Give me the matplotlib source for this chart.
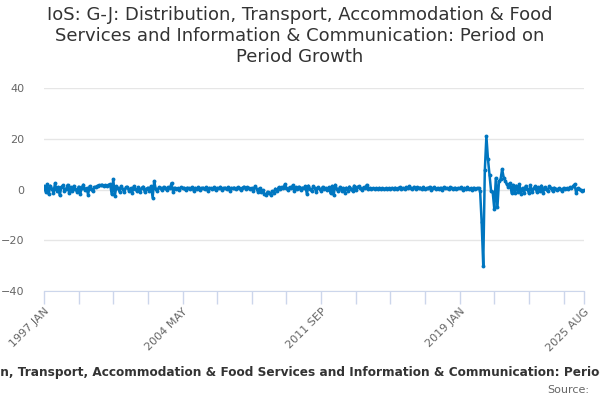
import matplotlib
matplotlib.use('Agg')
import matplotlib.pyplot as plt

# monthly period-on-period growth, 1997 JAN .. 2025 AUG
y1997 = [1.2, -0.8, 2.1, -1.9, 1.5, 0.3, -1.2, 2.4, -0.5, 1.0, -2.3, 0.8]
y1998 = [1.6, -0.4, 0.2, 1.8, -1.5, 0.9, -0.6, 1.4, 0.1, -0.9, 1.1, -1.8]
y1999 = [0.7, 1.9, -0.3, 0.5, -2.0, 1.3, 0.2, -0.7, 0.9, 1.1, 1.5, 1.7]
y2000 = [1.6, 1.8, 1.4, 1.7, 1.5, 1.9, 2.0, -1.8, 4.0, -2.5, 1.2, 0.4]
y2001 = [-0.9, 1.3, 0.1, -1.1, 0.8, 1.0, -0.6, 0.5, -1.3, 1.2, 0.3, -0.4]
y2002 = [0.9, -0.8, 0.6, 1.1, -1.0, 0.2, 0.7, -0.5, 1.3, -3.2, 3.3, 0.1]
y2003 = [-0.6, 0.8, 0.4, -0.3, 1.0, 0.5, -0.2, 0.9, 0.6, 2.5, -0.8, 0.7]
y2004 = [0.3, 0.5, -0.1, 0.8, 0.4, 0.6, -0.3, 0.7, 0.5, 0.2, 0.9, -0.4]
y2005 = [0.6, 0.3, 0.8, -0.2, 0.5, 0.7, 0.1, 0.9, -0.5, 0.6, 0.4, 0.2]
y2006 = [0.8, -0.3, 0.6, 0.4, 1.0, -0.2, 0.5, 0.7, 0.3, 0.9, -0.4, 0.6]
y2007 = [0.4, 0.7, 0.2, 0.9, 0.5, -0.1, 0.6, 1.1, 0.3, 0.8, 0.4, 0.2]
y2008 = [0.6, -0.5, 1.2, 0.3, -1.0, 0.5, -0.8, -0.3, -1.6, -2.2, -0.9, -1.4]
y2009 = [-2.0, -0.6, -1.2, 0.3, -0.4, 0.8, 0.2, 1.0, 0.5, 2.0, 0.6, -0.3]
y2010 = [0.9, 0.4, 1.6, -0.5, 0.8, 0.3, 1.1, -0.2, 0.7, 0.5, 1.3, -1.8]
y2011 = [1.5, 0.2, -0.6, 1.2, 0.4, -0.9, 0.8, 0.3, -0.4, 1.0, 0.1, 0.6]
y2012 = [-0.3, 0.9, -1.5, 1.4, -2.2, 1.8, 0.2, -0.7, 1.0, -0.5, 0.6, -1.2]
y2013 = [0.7, -0.4, 1.1, 0.3, -0.6, 1.5, -0.2, 0.8, 1.2, 0.4, -0.3, 0.9]
y2014 = [0.5, 1.8, 0.3, 0.6, 0.2, 0.5, 0.1, 0.4, 0.3, 0.6, 0.2, 0.5]
y2015 = [0.3, 0.4, 0.1, 0.5, 0.2, 0.6, 0.3, 0.7, 0.1, 0.4, 0.8, 0.3]
y2016 = [0.6, 0.2, 0.9, 0.4, 1.2, 0.5, 0.3, 1.0, 0.2, 0.8, 0.4, 0.7]
y2017 = [0.3, 0.9, 0.1, 0.6, 0.4, 1.0, -0.2, 0.5, 0.8, 0.3, 0.6, 0.2]
y2018 = [0.7, -0.3, 0.9, 0.4, 0.6, 0.2, 0.8, 0.5, 0.1, 0.7, 0.3, 0.6]
y2019 = [0.4, 0.8, -0.2, 0.6, 0.3, 0.9, 0.1, 0.5, -0.3, 0.7, 0.2, 0.4]
y2020 = [0.6, -0.5, -13.0, -30.0, 7.5, 21.0, 12.0, 5.7, -0.7, -1.0, -7.5, 4.5]
y2021 = [-7.0, 3.3, 4.0, 8.0, 4.7, 3.3, 2.0, 1.0, 2.5, -1.3, 1.8, -1.5]
y2022 = [1.5, -0.8, 2.0, -1.6, 0.6, -1.2, 1.4, 0.3, -1.5, 1.6, -0.9, 0.4]
y2023 = [1.2, -1.0, 0.8, -0.4, 1.5, -1.4, 0.9, 0.2, -0.7, 1.3, 0.5, -0.6]
y2024 = [0.7, 0.3, -0.2, 0.5, 0.2, -0.4, 0.6, 0.1, 0.4, 0.3, 0.8, 0.5]
y2025 = [1.2, 2.0, -1.3, 0.5, 0.1, -0.2, -0.4, -0.3]

values = (y1997 + y1998 + y1999 + y2000 + y2001 + y2002 + y2003 + y2004 + y2005
          + y2006 + y2007 + y2008 + y2009 + y2010 + y2011 + y2012 + y2013 + y2014
          + y2015 + y2016 + y2017 + y2018 + y2019 + y2020 + y2021 + y2022 + y2023
          + y2024 + y2025)

months = ['JAN', 'FEB', 'MAR', 'APR', 'MAY', 'JUN', 'JUL', 'AUG', 'SEP', 'OCT', 'NOV', 'DEC']
labels = [str(1997 + i // 12) + ' ' + months[i % 12] for i in range(len(values))]
x = list(range(len(values)))

title = 'IoS: G-J: Distribution, Transport, Accommodation & Food Services and Information & Communication: Period on Period Growth'

fig = plt.figure(figsize=(6, 4), dpi=100)
ax = fig.add_axes([44 / 600, 109 / 400, 540 / 600, 203 / 400])

ax.plot(x, values, color='#0076c0', linewidth=1.8, marker='o', markersize=2.8,
        markeredgewidth=0, zorder=3)

ax.set_xlim(0, len(values) - 1)
ax.set_ylim(-40, 40)
ax.set_yticks([-40, -20, 0, 20, 40])
ax.grid(axis='y', color='#e6e6e6', linewidth=1)
ax.set_axisbelow(True)

for s in ['top', 'right', 'left']:
    ax.spines[s].set_visible(False)
ax.spines['bottom'].set_color('#ccd6eb')
ax.tick_params(axis='x', color='#ccd6eb', length=9, width=1, labelcolor='#666666',
               labelsize=8, pad=2)
ax.tick_params(axis='y', length=0, labelcolor='#666666', labelsize=8, pad=14)

# ticks every 22 months, labels every 4th, plus the last month
last = len(values) - 1
ticks = list(range(0, last, 22)) + [last]
ax.set_xticks(ticks)
ax.set_xticklabels([labels[t] if (t % 88 == 0 or t == last) else '' for t in ticks])
for lab in ax.get_xticklabels():
    lab.set_rotation(45)
    lab.set_ha('right')
    lab.set_rotation_mode('anchor')

fig.text(0.5, 0.985, 'IoS: G-J: Distribution, Transport, Accommodation & Food\n'
         'Services and Information & Communication: Period on\nPeriod Growth',
         ha='center', va='top', fontsize=13, color='#333333', linespacing=1.2)

fig.text(0.5, 0.068, title, ha='center', va='center', fontsize=8.75,
         fontweight='bold', color='#333333')
fig.text(0.982, 0.025, 'Source:', ha='right', va='center', fontsize=8, color='#666666')

fig.savefig('out.png', dpi=100)
